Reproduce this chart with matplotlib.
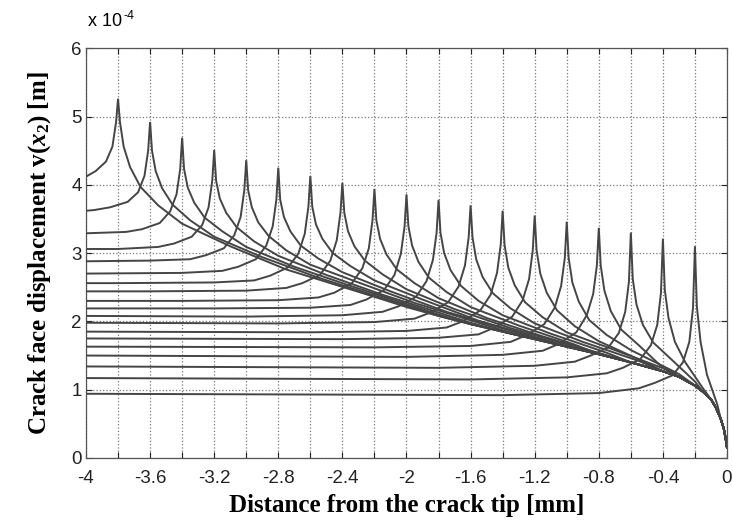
import matplotlib
matplotlib.use("Agg")
import matplotlib.pyplot as plt

plt.rcParams["font.family"] = ["Liberation Sans", "DejaVu Sans"]
plt.rcParams["mathtext.fontset"] = "custom"
plt.rcParams["mathtext.rm"] = "Liberation Serif:bold"
plt.rcParams["mathtext.it"] = "Liberation Serif:bold:italic"

# ── Data (y in units of 1e-4 m) ────────────────────────────────────

# cusp position of each curve, its peak and its value at x = -4
CUSP_X = [-3.8, -3.6, -3.4, -3.2, -3.0, -2.8, -2.6, -2.4, -2.2, -2.0,
          -1.8, -1.6, -1.4, -1.2, -1.0, -0.8, -0.6, -0.4, -0.2]
PEAK_Y = [5.26, 4.92, 4.69, 4.51, 4.36, 4.25, 4.13, 4.03, 3.94, 3.86,
          3.78, 3.70, 3.62, 3.55, 3.46, 3.37, 3.30, 3.21, 3.10]
START_Y = [4.12, 3.62, 3.29, 3.06, 2.88, 2.70, 2.56, 2.44, 2.30, 2.19,
           2.08, 1.98, 1.85, 1.75, 1.63, 1.50, 1.34, 1.17, 0.94]

# left branch: values at these distances before the cusp
LEFT_DX = [1.2, 0.6, 0.35, 0.25, 0.14, 0.075, 0.035, 0.012]
LEFT_Y = [
    [None, None, None, None, 4.20, 4.34, 4.56, 4.92],
    [None, None, 3.63, 3.67, 3.75, 3.89, 4.13, 4.50],
    [None, None, 3.31, 3.35, 3.44, 3.61, 3.86, 4.23],
    [None, 3.06, 3.09, 3.14, 3.24, 3.41, 3.67, 4.06],
    [None, 2.89, 2.91, 2.97, 3.07, 3.26, 3.53, 3.92],
    [None, 2.71, 2.74, 2.80, 2.91, 3.11, 3.39, 3.78],
    [2.56, 2.57, 2.60, 2.67, 2.79, 2.99, 3.28, 3.68],
    [2.44, 2.45, 2.49, 2.56, 2.68, 2.89, 3.19, 3.59],
    [2.30, 2.31, 2.35, 2.42, 2.56, 2.78, 3.07, 3.48],
    [2.19, 2.20, 2.24, 2.32, 2.46, 2.68, 2.99, 3.39],
    [2.07, 2.09, 2.14, 2.22, 2.36, 2.59, 2.90, 3.30],
    [1.97, 1.99, 2.04, 2.13, 2.28, 2.51, 2.82, 3.23],
    [1.84, 1.86, 1.91, 2.00, 2.16, 2.39, 2.71, 3.12],
    [1.74, 1.76, 1.81, 1.91, 2.07, 2.31, 2.62, 3.04],
    [1.62, 1.64, 1.70, 1.80, 1.96, 2.20, 2.52, 2.93],
    [1.48, 1.51, 1.57, 1.67, 1.84, 2.09, 2.40, 2.82],
    [1.32, 1.35, 1.41, 1.50, 1.62, 1.83, 2.14, 2.58],
    [1.15, 1.18, 1.24, 1.32, 1.45, 1.65, 1.95, 2.42],
    [0.92, 0.95, 1.02, 1.10, 1.21, 1.40, 1.70, 2.20],
]

# right branch: values at these distances after the cusp
RIGHT_DX = [0.012, 0.035, 0.075, 0.14, 0.25, 0.4, 0.7, 1.05, 1.6]
RIGHT_Y = [
    [4.92, 4.56, 4.26, 3.97, 3.70, 3.43, 3.10, 2.76, 2.36],
    [4.50, 4.20, 3.95, 3.71, 3.48, 3.24, 2.94, 2.64, 2.23],
    [4.23, 3.96, 3.74, 3.52, 3.32, 3.09, 2.80, 2.52, 2.10],
    [4.06, 3.80, 3.59, 3.38, 3.17, 2.96, 2.68, 2.39, 1.98],
    [3.92, 3.67, 3.45, 3.25, 3.04, 2.83, 2.57, 2.27, 1.87],
    [3.78, 3.53, 3.32, 3.11, 2.92, 2.72, 2.44, 2.14, 1.76],
    [3.68, 3.42, 3.21, 3.00, 2.81, 2.60, 2.32, 2.01, 1.64],
    [3.59, 3.32, 3.10, 2.89, 2.69, 2.47, 2.18, 1.90, 1.53],
    [3.48, 3.21, 2.98, 2.76, 2.56, 2.34, 2.05, 1.78, 1.40],
    [3.39, 3.11, 2.87, 2.64, 2.43, 2.21, 1.94, 1.66, None],
    [3.30, 3.00, 2.75, 2.52, 2.30, 2.09, 1.82, 1.54, None],
    [3.23, 2.91, 2.65, 2.41, 2.19, 1.97, 1.70, 1.42, None],
    [3.12, 2.79, 2.53, 2.28, 2.06, 1.84, 1.58, 1.27, None],
    [3.04, 2.70, 2.42, 2.16, 1.93, 1.71, 1.39, None, None],
    [2.93, 2.57, 2.29, 2.02, 1.80, 1.58, 1.23, None, None],
    [2.82, 2.45, 2.15, 1.88, 1.65, 1.32, None, None, None],
    [2.62, 2.25, 1.95, 1.69, 1.45, 1.12, None, None, None],
    [2.46, 2.05, 1.70, 1.40, 1.02, None, None, None, None],
    [2.22, 1.70, 1.22, 0.78, None, None, None, None, None],
]

# common tail all curves run into towards the crack tip
BAND_X = [-2.0, -1.8, -1.6, -1.4, -1.2, -1.0, -0.8, -0.6, -0.4, -0.3,
          -0.2, -0.15, -0.1, -0.07, -0.04, -0.02, -0.008, 0.0]
BAND_Y = [2.21, 2.08, 1.96, 1.85, 1.74, 1.63, 1.52, 1.40, 1.27, 1.19,
          1.06, 0.97, 0.86, 0.74, 0.58, 0.43, 0.28, 0.15]

X_TICKS = [-4.0, -3.8, -3.6, -3.4, -3.2, -3.0, -2.8, -2.6, -2.4, -2.2, -2.0,
           -1.8, -1.6, -1.4, -1.2, -1.0, -0.8, -0.6, -0.4, -0.2, 0.0]
X_TICK_LABELS = ["-4", "", "-3.6", "", "-3.2", "", "-2.8", "", "-2.4", "", "-2",
                 "", "-1.6", "", "-1.2", "", "-0.8", "", "-0.4", "", "0"]
Y_TICKS = [0, 1, 2, 3, 4, 5, 6]


def curve_points(i):
    """Assemble one displacement curve from its read-off pieces."""
    c = CUSP_X[i]
    xs, ys = [-4.0], [START_Y[i]]
    for dx, y in zip(LEFT_DX, LEFT_Y[i]):
        if y is not None:
            xs.append(c - dx)
            ys.append(y)
    xs.append(c)
    ys.append(PEAK_Y[i])
    for dx, y in zip(RIGHT_DX, RIGHT_Y[i]):
        if y is not None:
            xs.append(c + dx)
            ys.append(y)
    last = xs[-1]
    for bx, by in zip(BAND_X, BAND_Y):
        if bx > last + 1e-9:
            xs.append(bx)
            ys.append(by)
    return xs, ys


fig = plt.figure(figsize=(7.33, 5.24), dpi=100, facecolor="white")
ax = fig.add_axes([0.1173, 0.126, 0.8745, 0.782])

for i in range(len(CUSP_X)):
    xs, ys = curve_points(i)
    ax.plot(xs, ys, color="#454545", linewidth=1.4, solid_joinstyle="miter",
            zorder=3)

ax.set_xlim(-4, 0)
ax.set_ylim(0, 6)
ax.set_xticks(X_TICKS)
ax.set_xticklabels(X_TICK_LABELS)
ax.set_yticks(Y_TICKS)
ax.set_yticklabels([str(v) for v in Y_TICKS])
ax.tick_params(direction="in", length=4, width=0.8, labelsize=13.5,
               colors="#222222", top=True, right=True)
ax.tick_params(axis="x", pad=9)
ax.tick_params(axis="y", pad=3)
ax.grid(True, linestyle=":", color="#7a7a7a", linewidth=0.9, zorder=0)
for sp in ax.spines.values():
    sp.set_color("#555555")
    sp.set_linewidth(0.9)

ax.set_xlabel("Distance from the crack tip [mm]", family="Liberation Serif",
              fontweight="bold", fontsize=18, labelpad=5)
ax.set_ylabel(r"Crack face displacement v($x_2$) [m]", family="Liberation Serif",
              fontweight="bold", fontsize=18, labelpad=13)

fig.text(88 / 733, 1 - 22 / 524, "x 10", fontsize=13, va="center", ha="left")
fig.text(123 / 733, 1 - 16 / 524, "-4", fontsize=9, va="center", ha="left")

fig.savefig("out.png", dpi=100)
